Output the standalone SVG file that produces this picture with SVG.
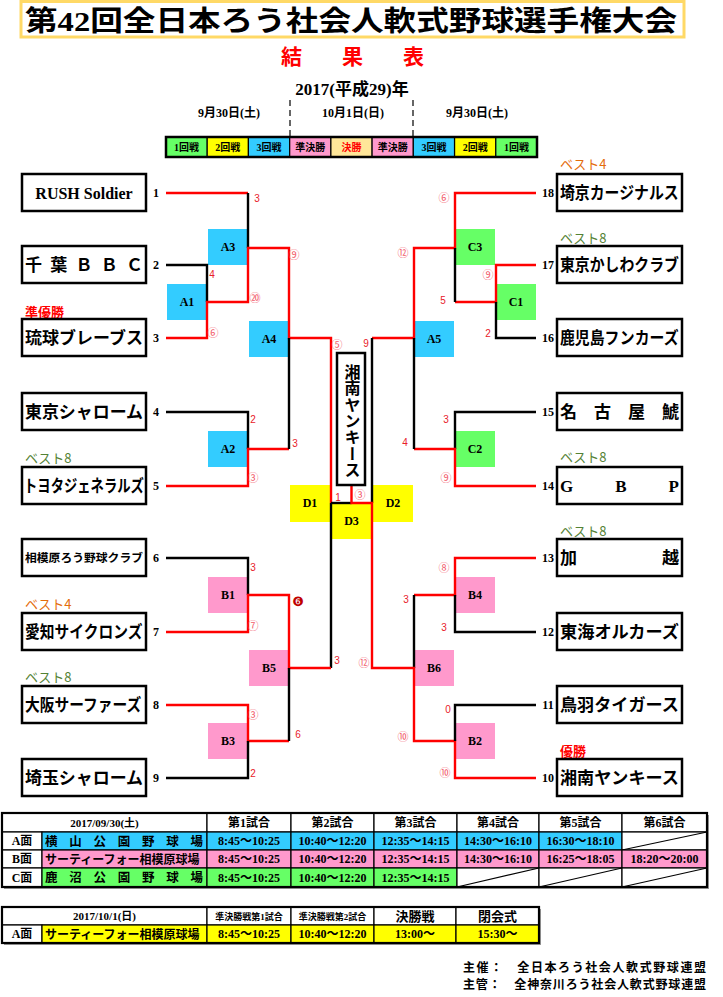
<svg xmlns="http://www.w3.org/2000/svg" width="723" height="997" viewBox="0 0 723 997">
<defs>
<style>
text{font-family:"Liberation Serif","Noto Sans CJK JP",serif;font-weight:bold;fill:#000}
.box{fill:#fff;stroke:#000;stroke-width:2.5}
.tn{font-size:17px}
.num{font-size:12px;text-anchor:middle}
.r{stroke:#f00;stroke-width:2.4;fill:none}
.k{stroke:#000;stroke-width:2.4;fill:none}
.A{fill:#33CCFF}.B{fill:#FF99CC}.C{fill:#66FF66}.D{fill:#FFFF00}.F{fill:#FFE699}
.nl{font-size:12px;text-anchor:middle}
.sc{font-family:"Liberation Sans","DejaVu Sans",sans-serif;font-weight:normal;font-size:10px;fill:#E8202A;text-anchor:middle}
.sc2{font-family:"Noto Sans CJK JP","DejaVu Sans",sans-serif;font-weight:normal;font-size:11px;fill:#F25A6A;text-anchor:middle}
.b4{font-family:"Noto Sans CJK JP",sans-serif;font-weight:normal;font-size:13px;fill:#E46C0A}
.b8{font-family:"Noto Sans CJK JP",sans-serif;font-weight:normal;font-size:13px;fill:#548235}
.win{font-family:"Noto Sans CJK JP",sans-serif;font-weight:bold;font-size:13px;fill:#FF0000}
.lg{font-size:10px;text-anchor:middle}
.cell{stroke:#000;stroke-width:1.2}
.tt{font-size:12px;text-anchor:middle}
.tt9{font-size:9px;text-anchor:middle}
.tt11{font-size:11px;text-anchor:middle}
.tt13{font-size:13px;text-anchor:middle}
</style>
</defs>
<rect width="723" height="997" fill="#fff"/>

<g id="header">
<rect x="21" y="1.5" width="663" height="35.5" fill="#fff" stroke="#FFD966" stroke-width="3"/>
<text x="25" y="31" font-size="28" textLength="652" lengthAdjust="spacingAndGlyphs">第42回全日本ろう社会人軟式野球選手権大会</text>
<text x="281" y="64" font-size="21" style="fill:#FF0000" textLength="143" lengthAdjust="spacing">結果表</text>
<text x="352" y="95" font-size="17" text-anchor="middle">2017(平成29)年</text>
<text x="229" y="117" font-size="12" text-anchor="middle">9月30日(土)</text>
<text x="353" y="117" font-size="12" text-anchor="middle">10月1日(日)</text>
<text x="477" y="117" font-size="12" text-anchor="middle">9月30日(土)</text>
<line x1="290" y1="100" x2="290" y2="137" stroke="#000" stroke-width="1.2" stroke-dasharray="6,4"/>
<line x1="413" y1="100" x2="413" y2="137" stroke="#000" stroke-width="1.2" stroke-dasharray="6,4"/>
</g>

<g id="legend">
<rect x="166" y="137" width="41.2" height="20" class="C cell"/>
<rect x="207.2" y="137" width="41.2" height="20" class="D cell"/>
<rect x="248.4" y="137" width="41.2" height="20" class="A cell"/>
<rect x="289.7" y="137" width="41.2" height="20" class="B cell"/>
<rect x="330.9" y="137" width="41.2" height="20" class="F cell"/>
<rect x="372.1" y="137" width="41.2" height="20" class="B cell"/>
<rect x="413.3" y="137" width="41.2" height="20" class="A cell"/>
<rect x="454.6" y="137" width="41.2" height="20" class="D cell"/>
<rect x="495.8" y="137" width="41.2" height="20" class="C cell"/>
<rect x="166" y="137" width="371" height="20" fill="none" stroke="#000" stroke-width="2.5"/>
<text class="lg" x="186.6" y="151">1回戦</text>
<text class="lg" x="227.8" y="151">2回戦</text>
<text class="lg" x="269.1" y="151">3回戦</text>
<text class="lg" x="310.3" y="151">準決勝</text>
<text class="lg" x="351.5" y="151" style="fill:#FF0000">決勝</text>
<text class="lg" x="392.7" y="151">準決勝</text>
<text class="lg" x="434" y="151">3回戦</text>
<text class="lg" x="475.2" y="151">2回戦</text>
<text class="lg" x="516.4" y="151">1回戦</text>
</g>

<g id="matches">
<g id="A1"><rect x="167" y="284" width="40" height="36" class="A"/><text class="nl" x="187" y="306">A1</text></g>
<g id="A3"><rect x="208" y="229" width="40" height="36" class="A"/><text class="nl" x="228" y="251">A3</text></g>
<g id="A4"><rect x="249" y="321" width="40" height="36" class="A"/><text class="nl" x="269" y="343">A4</text></g>
<g id="A2"><rect x="208" y="431" width="40" height="36" class="A"/><text class="nl" x="228" y="453">A2</text></g>
<g id="B1"><rect x="208" y="577" width="40" height="36" class="B"/><text class="nl" x="228" y="599">B1</text></g>
<g id="B5"><rect x="249" y="650" width="40" height="36" class="B"/><text class="nl" x="269" y="672">B5</text></g>
<g id="B3"><rect x="208" y="723" width="40" height="36" class="B"/><text class="nl" x="228" y="745">B3</text></g>
<g id="D1"><rect x="290" y="485" width="40" height="37" class="D"/><text class="nl" x="310" y="507">D1</text></g>
<g id="D3"><rect x="332" y="503" width="39" height="36" class="D"/><text class="nl" x="351.5" y="525">D3</text></g>
<g id="D2"><rect x="373" y="485" width="40" height="37" class="D"/><text class="nl" x="393" y="507">D2</text></g>
<g id="C3"><rect x="455" y="229" width="40" height="36" class="C"/><text class="nl" x="475" y="251">C3</text></g>
<g id="C1"><rect x="496" y="284" width="40" height="36" class="C"/><text class="nl" x="516" y="306">C1</text></g>
<g id="A5"><rect x="414" y="321" width="40" height="36" class="A"/><text class="nl" x="434" y="343">A5</text></g>
<g id="C2"><rect x="455" y="431" width="40" height="36" class="C"/><text class="nl" x="475" y="453">C2</text></g>
<g id="B4"><rect x="455" y="577" width="40" height="36" class="B"/><text class="nl" x="475" y="599">B4</text></g>
<g id="B6"><rect x="414" y="650" width="40" height="36" class="B"/><text class="nl" x="434" y="672">B6</text></g>
<g id="B2"><rect x="455" y="723" width="40" height="36" class="B"/><text class="nl" x="475" y="745">B2</text></g>
</g>

<g id="connectors">
<path class="r" d="M166,193H248"/>
<path class="k" d="M248,193V248"/>
<path class="k" d="M166,265H207V302"/>
<path class="r" d="M166,338H207V302H248V248H289V338H331V503"/>
<path class="k" d="M331,503H351.5"/>
<path class="k" d="M331,503V668"/>
<path class="k" d="M166,412H248V449"/>
<path class="r" d="M166,486H248V449H289"/>
<path class="k" d="M289,338V449"/>
<path class="k" d="M166,558H248V595"/>
<path class="r" d="M166,632H248V595H289V668H331"/>
<path class="r" d="M166,705H248V741H289"/>
<path class="k" d="M166,778H248V741"/>
<path class="k" d="M289,668V741"/>
<path class="r" d="M536,193H455V248H414V338H372"/>
<path class="k" d="M372,338V503"/>
<path class="r" d="M536,265H496V302H455"/>
<path class="k" d="M536,338H496V302"/>
<path class="k" d="M455,248V302"/>
<path class="k" d="M536,412H455V449"/>
<path class="r" d="M536,486H455V449H414"/>
<path class="k" d="M414,338V449"/>
<path class="r" d="M536,558H455V595H414"/>
<path class="k" d="M536,632H455V595"/>
<path class="k" d="M414,595V668"/>
<path class="r" d="M536,778H455V741H414V668H372V503H351.5V485"/>
<path class="k" d="M536,705H455V741"/>
</g>

<g id="scores">
<text class="sc" x="257" y="202">3</text>
<text class="sc" x="212" y="278">4</text>
<text class="sc" x="253" y="423">2</text>
<text class="sc" x="295" y="447">3</text>
<text class="sc" x="338" y="501">1</text>
<text class="sc" x="253" y="571">3</text>
<text class="sc" x="337" y="664">3</text>
<text class="sc" x="298" y="738">6</text>
<text class="sc" x="253" y="777">2</text>
<text class="sc2" x="213" y="337">⑥</text>
<text class="sc2" x="255" y="302">⑳</text>
<text class="sc2" x="294" y="259">⑨</text>
<text class="sc2" x="337" y="349">⑤</text>
<text class="sc2" x="253" y="482">③</text>
<text class="sc2" x="360" y="499">③</text>
<text class="sc2" x="253" y="630">⑦</text>
<text class="sc2" x="253" y="719">③</text>
<text class="sc2" x="298" y="606" style="font-family:'DejaVu Sans',sans-serif;font-size:13px;fill:#C00000">❻</text>
<text class="sc" x="443" y="304">5</text>
<text class="sc" x="488" y="337">2</text>
<text class="sc" x="366" y="347">9</text>
<text class="sc" x="446" y="423">3</text>
<text class="sc" x="405" y="446">4</text>
<text class="sc" x="406" y="603">3</text>
<text class="sc" x="444" y="631">3</text>
<text class="sc" x="448" y="713">0</text>
<text class="sc2" x="444" y="202">⑥</text>
<text class="sc2" x="403" y="257">⑫</text>
<text class="sc2" x="488" y="279">⑨</text>
<text class="sc2" x="446" y="482">⑨</text>
<text class="sc2" x="444" y="572">⑧</text>
<text class="sc2" x="364" y="667">⑫</text>
<text class="sc2" x="403" y="741">⑩</text>
<text class="sc2" x="445" y="777">⑩</text>
</g>

<g id="champion">
<rect x="337" y="353" width="28" height="132" class="box" stroke-width="2"/>
<text x="351" y="364" font-size="16" style="writing-mode:vertical-rl;text-orientation:upright" letter-spacing="0.3">湘南ヤンキース</text>
</g>

<g id="labels">
<text class="win" x="25" y="317">準優勝</text>
<text class="b8" x="25" y="463">ベスト8</text>
<text class="b4" x="25" y="609">ベスト4</text>
<text class="b8" x="25" y="682">ベスト8</text>
<text class="b4" x="560" y="169">ベスト4</text>
<text class="b8" x="560" y="243">ベスト8</text>
<text class="b8" x="560" y="462">ベスト8</text>
<text class="b8" x="560" y="536">ベスト8</text>
<text class="win" x="560" y="756">優勝</text>
</g>

<g id="teams-left">
<g id="t1"><rect x="22" y="174" width="124" height="37" class="box"/><text x="84" y="199" font-size="16" text-anchor="middle">RUSH Soldier</text><text class="num" x="156" y="197">1</text></g>
<g id="t2"><rect x="22" y="246" width="124" height="37" class="box"/><text class="tn" x="25" y="271" textLength="118" lengthAdjust="spacing">千葉ＢＢＣ</text><text class="num" x="156" y="269">2</text></g>
<g id="t3"><rect x="22" y="319" width="124" height="37" class="box"/><text class="tn" x="25" y="344" textLength="118" lengthAdjust="spacingAndGlyphs">琉球ブレーブス</text><text class="num" x="156" y="342">3</text></g>
<g id="t4"><rect x="22" y="393" width="124" height="37" class="box"/><text class="tn" x="25" y="418" textLength="118" lengthAdjust="spacingAndGlyphs">東京シャローム</text><text class="num" x="156" y="416">4</text></g>
<g id="t5"><rect x="22" y="467" width="124" height="37" class="box"/><text class="tn" transform="translate(24,492) scale(0.784,1)">トヨタジェネラルズ</text><text class="num" x="156" y="490">5</text></g>
<g id="t6"><rect x="22" y="539" width="124" height="37" class="box"/><text x="25" y="562" font-size="11.8">相模原ろう野球クラブ</text><text class="num" x="156" y="562">6</text></g>
<g id="t7"><rect x="22" y="613" width="124" height="37" class="box"/><text class="tn" transform="translate(25,638) scale(0.868,1)">愛知サイクロンズ</text><text class="num" x="156" y="636">7</text></g>
<g id="t8"><rect x="22" y="686" width="124" height="37" class="box"/><text class="tn" transform="translate(25,711) scale(0.868,1)">大阪サーファーズ</text><text class="num" x="156" y="709">8</text></g>
<g id="t9"><rect x="22" y="759" width="124" height="37" class="box"/><text class="tn" x="25" y="784" textLength="118" lengthAdjust="spacingAndGlyphs">埼玉シャローム</text><text class="num" x="156" y="782">9</text></g>
</g>

<g id="teams-right">
<g id="t18"><rect x="557" y="174" width="125" height="37" class="box"/><text class="tn" transform="translate(560,199) scale(0.875,1)">埼京カージナルス</text><text class="num" x="548" y="197">18</text></g>
<g id="t17"><rect x="557" y="246" width="125" height="37" class="box"/><text class="tn" transform="translate(560,271) scale(0.875,1)">東京かしわクラブ</text><text class="num" x="548" y="269">17</text></g>
<g id="t16"><rect x="557" y="319" width="125" height="37" class="box"/><text class="tn" transform="translate(560,344) scale(0.875,1)">鹿児島フンカーズ</text><text class="num" x="548" y="342">16</text></g>
<g id="t15"><rect x="557" y="393" width="125" height="37" class="box"/><text class="tn" x="560" y="418" textLength="119" lengthAdjust="spacing">名古屋鯱</text><text class="num" x="548" y="416">15</text></g>
<g id="t14"><rect x="557" y="467" width="125" height="37" class="box"/><text class="tn" x="560" y="492" textLength="119" lengthAdjust="spacing">GBP</text><text class="num" x="548" y="490">14</text></g>
<g id="t13"><rect x="557" y="539" width="125" height="37" class="box"/><text class="tn" x="560" y="564" textLength="119" lengthAdjust="spacing">加越</text><text class="num" x="548" y="562">13</text></g>
<g id="t12"><rect x="557" y="613" width="125" height="37" class="box"/><text class="tn" x="560" y="638" textLength="119" lengthAdjust="spacingAndGlyphs">東海オルカーズ</text><text class="num" x="548" y="636">12</text></g>
<g id="t11"><rect x="557" y="686" width="125" height="37" class="box"/><text class="tn" x="560" y="711" textLength="119" lengthAdjust="spacingAndGlyphs">鳥羽タイガース</text><text class="num" x="548" y="709">11</text></g>
<g id="t10"><rect x="557" y="759" width="125" height="37" class="box"/><text class="tn" x="560" y="784" textLength="119" lengthAdjust="spacingAndGlyphs">湘南ヤンキース</text><text class="num" x="548" y="782">10</text></g>
</g>

<g id="schedule1">
<rect x="4" y="815" width="705" height="74" fill="#999"/>
<rect x="2" y="813" width="705" height="74" fill="#fff"/>
<rect x="2" y="813" width="205" height="19" fill="#fff" class="cell"/>
<rect x="207" y="813" width="84" height="19" fill="#fff" class="cell"/>
<rect x="291" y="813" width="83" height="19" fill="#fff" class="cell"/>
<rect x="374" y="813" width="83" height="19" fill="#fff" class="cell"/>
<rect x="457" y="813" width="82" height="19" fill="#fff" class="cell"/>
<rect x="539" y="813" width="83" height="19" fill="#fff" class="cell"/>
<rect x="622" y="813" width="85" height="19" fill="#fff" class="cell"/>
<text class="tt11" x="104.5" y="827">2017/09/30(土)</text>
<text class="tt" x="249" y="827">第1試合</text>
<text class="tt" x="332.5" y="827">第2試合</text>
<text class="tt" x="415.5" y="827">第3試合</text>
<text class="tt" x="498" y="827">第4試合</text>
<text class="tt" x="580.5" y="827">第5試合</text>
<text class="tt" x="664.5" y="827">第6試合</text>

<rect x="2" y="832" width="40" height="18" fill="#fff" class="cell"/>
<rect x="42" y="832" width="165" height="18" class="A cell"/>
<rect x="207" y="832" width="84" height="18" class="A cell"/>
<rect x="291" y="832" width="83" height="18" class="A cell"/>
<rect x="374" y="832" width="83" height="18" class="A cell"/>
<rect x="457" y="832" width="82" height="18" class="A cell"/>
<rect x="539" y="832" width="83" height="18" class="A cell"/>
<rect x="622" y="832" width="85" height="18" fill="#fff" class="cell"/>
<line x1="622" y1="850" x2="707" y2="832" stroke="#000" stroke-width="1.2"/>
<text class="tt" x="22" y="845">A面</text>
<text x="45" y="846" font-size="12.5" textLength="158" lengthAdjust="spacing">横山公園野球場</text>
<text class="tt" x="249" y="845">8:45～10:25</text>
<text class="tt" x="332.5" y="845">10:40～12:20</text>
<text class="tt" x="415.5" y="845">12:35～14:15</text>
<text class="tt" x="498" y="845">14:30～16:10</text>
<text class="tt" x="580.5" y="845">16:30～18:10</text>

<rect x="2" y="850" width="40" height="18" fill="#fff" class="cell"/>
<rect x="42" y="850" width="165" height="18" class="B cell"/>
<rect x="207" y="850" width="84" height="18" class="B cell"/>
<rect x="291" y="850" width="83" height="18" class="B cell"/>
<rect x="374" y="850" width="83" height="18" class="B cell"/>
<rect x="457" y="850" width="82" height="18" class="B cell"/>
<rect x="539" y="850" width="83" height="18" class="B cell"/>
<rect x="622" y="850" width="85" height="18" class="B cell"/>
<text class="tt" x="22" y="863">B面</text>
<text x="45" y="864" font-size="12">サーティーフォー相模原球場</text>
<text class="tt" x="249" y="863">8:45～10:25</text>
<text class="tt" x="332.5" y="863">10:40～12:20</text>
<text class="tt" x="415.5" y="863">12:35～14:15</text>
<text class="tt" x="498" y="863">14:30～16:10</text>
<text class="tt" x="580.5" y="863">16:25～18:05</text>
<text class="tt" x="664.5" y="863">18:20～20:00</text>

<rect x="2" y="868" width="40" height="19" fill="#fff" class="cell"/>
<rect x="42" y="868" width="165" height="19" class="C cell"/>
<rect x="207" y="868" width="84" height="19" class="C cell"/>
<rect x="291" y="868" width="83" height="19" class="C cell"/>
<rect x="374" y="868" width="83" height="19" class="C cell"/>
<rect x="457" y="868" width="82" height="19" fill="#fff" class="cell"/>
<rect x="539" y="868" width="83" height="19" fill="#fff" class="cell"/>
<rect x="622" y="868" width="85" height="19" fill="#fff" class="cell"/>
<line x1="457" y1="887" x2="539" y2="868" stroke="#000" stroke-width="1.2"/>
<line x1="539" y1="887" x2="622" y2="868" stroke="#000" stroke-width="1.2"/>
<line x1="622" y1="887" x2="707" y2="868" stroke="#000" stroke-width="1.2"/>
<text class="tt" x="22" y="882">C面</text>
<text x="45" y="882" font-size="12.5" textLength="158" lengthAdjust="spacing">鹿沼公園野球場</text>
<text class="tt" x="249" y="882">8:45～10:25</text>
<text class="tt" x="332.5" y="882">10:40～12:20</text>
<text class="tt" x="415.5" y="882">12:35～14:15</text>
<rect x="2" y="813" width="705" height="74" fill="none" stroke="#000" stroke-width="2.2"/>
</g>

<g id="schedule2">
<rect x="4" y="909" width="537" height="36" fill="#999"/>
<rect x="2" y="907" width="205" height="18" fill="#fff" class="cell"/>
<rect x="207" y="907" width="84" height="18" fill="#fff" class="cell"/>
<rect x="291" y="907" width="83" height="18" fill="#fff" class="cell"/>
<rect x="374" y="907" width="82" height="18" fill="#fff" class="cell"/>
<rect x="456" y="907" width="83" height="18" fill="#fff" class="cell"/>
<text class="tt11" x="104.5" y="920">2017/10/1(日)</text>
<text class="tt9" x="249" y="919.5">準決勝戦第1試合</text>
<text class="tt9" x="332.5" y="919.5">準決勝戦第2試合</text>
<text class="tt13" x="415" y="920.5">決勝戦</text>
<text class="tt13" x="497.5" y="920.5">閉会式</text>
<rect x="2" y="925" width="40" height="18" fill="#fff" class="cell"/>
<rect x="42" y="925" width="165" height="18" class="D cell"/>
<rect x="207" y="925" width="84" height="18" class="D cell"/>
<rect x="291" y="925" width="83" height="18" class="D cell"/>
<rect x="374" y="925" width="82" height="18" class="D cell"/>
<rect x="456" y="925" width="83" height="18" class="D cell"/>
<text class="tt" x="22" y="938">A面</text>
<text x="45" y="939" font-size="12">サーティーフォー相模原球場</text>
<text class="tt" x="249" y="938">8:45～10:25</text>
<text class="tt" x="332.5" y="938">10:40～12:20</text>
<text class="tt" x="415" y="938">13:00～</text>
<text class="tt" x="497.5" y="938">15:30～</text>
<rect x="2" y="907" width="537" height="36" fill="none" stroke="#000" stroke-width="2.2"/>
</g>

<g id="footer">
<text x="463" y="972" font-size="12" textLength="243" lengthAdjust="spacing">主催：　全日本ろう社会人軟式野球連盟</text>
<text x="463" y="989" font-size="12" textLength="243" lengthAdjust="spacing">主管：　全神奈川ろう社会人軟式野球連盟</text>
</g>
</svg>
